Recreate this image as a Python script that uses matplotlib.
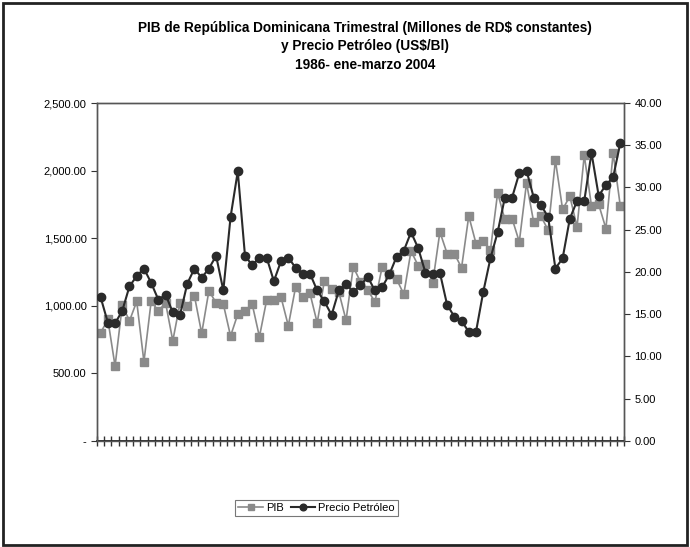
import numpy as np
import matplotlib.pyplot as plt
from matplotlib.ticker import FuncFormatter
from matplotlib.patches import Rectangle

plt.rcParams['font.family'] = ['Liberation Sans', 'DejaVu Sans']

# quarterly series, 1986 Q1 to 2004 Q1
trimestres = np.arange(73)

pib = [799, 898, 553, 1002, 888, 1031, 585, 1031, 962, 1020, 740, 1020,
       997, 1071, 795, 1110, 1021, 1011, 775, 937, 962, 1011, 770, 1041,
       1041, 1061, 851, 1135, 1065, 1091, 873, 1184, 1120, 1100, 893, 1287,
       1176, 1115, 1028, 1287, 1233, 1196, 1085, 1405, 1295, 1307, 1169, 1546,
       1386, 1386, 1280, 1664, 1460, 1480, 1411, 1835, 1638, 1645, 1472, 1908,
       1616, 1662, 1559, 2076, 1712, 1810, 1583, 2113, 1738, 1749, 1571, 2130, 1734]

petroleo = [17.0, 14.0, 13.9, 15.4, 18.3, 19.5, 20.4, 18.7, 16.7, 17.3, 15.2, 14.9,
            18.6, 20.4, 19.3, 20.4, 21.9, 17.8, 26.5, 31.9, 21.9, 20.8, 21.7, 21.7,
            18.9, 21.3, 21.7, 20.5, 19.8, 19.8, 17.8, 16.5, 14.9, 17.8, 18.6, 17.6,
            18.4, 19.4, 17.8, 18.2, 19.7, 21.8, 22.5, 24.7, 22.8, 19.9, 19.8, 19.9,
            16.1, 14.7, 14.2, 12.9, 12.9, 17.6, 21.6, 24.7, 28.8, 28.8, 31.7, 32.0,
            28.8, 27.9, 26.5, 20.4, 21.6, 26.3, 28.4, 28.4, 34.1, 29.0, 30.3, 31.2, 35.3]

titulo = ("PIB de República Dominicana Trimestral (Millones de RD$ constantes)\n"
          "y Precio Petróleo (US$/Bl)\n"
          "1986- ene-marzo 2004")

fig = plt.figure(figsize=(6.9, 5.47), dpi=100)
ax = fig.add_axes([0.1406, 0.1942, 0.7637, 0.6175])
ax2 = ax.twinx()

l1, = ax.plot(trimestres, pib, color='#8a8a8a', marker='s', markersize=5.3,
              linewidth=1.2, label='PIB', zorder=2)
l2, = ax2.plot(trimestres, petroleo, color='#2a2a2a', marker='o', markersize=6,
               linewidth=1.5, label='Precio Petróleo', zorder=3)

ax.set_xlim(-0.5, 72.5)
ax.set_ylim(0, 2500)
ax2.set_ylim(0, 40)
ax.set_yticks(np.arange(0, 2501, 500))
ax2.set_yticks(np.arange(0, 41, 5))

def fmt_pib(v, pos):
    if v == 0:
        return '-'
    return '{:,.2f}'.format(v)

ax.yaxis.set_major_formatter(FuncFormatter(fmt_pib))
ax2.yaxis.set_major_formatter(FuncFormatter(lambda v, p: '{:.2f}'.format(v)))

ax.set_xticks(np.arange(-0.5, 73, 1))
ax.set_xticklabels([])
ax.tick_params(axis='x', direction='inout', length=7, width=1, color='#333333')
ax.tick_params(axis='y', direction='out', length=4, labelsize=8, color='#333333')
ax2.tick_params(axis='y', direction='out', length=4, labelsize=8, color='#333333')

for a in (ax, ax2):
    for s in a.spines.values():
        s.set_color('#555555')
        s.set_linewidth(1)
ax.spines['bottom'].set_color('#222222')
ax.spines['bottom'].set_linewidth(1.3)

fig.text(0.529, 0.962, titulo, ha='center', va='top', fontsize=9.8,
         fontweight='bold', linespacing=1.4)

leg = fig.legend(handles=[l1, l2], loc='center', bbox_to_anchor=(0.459, 0.071),
                 ncol=2, fontsize=8, frameon=True, fancybox=False,
                 handlelength=2.2, handletextpad=0.3, columnspacing=0.6,
                 borderpad=0.3, markerscale=0.8)
leg.get_frame().set_edgecolor('#555555')
leg.get_frame().set_linewidth(0.8)

# outer frame around the whole chart
fig.patches.append(Rectangle((0.004, 0.004), 0.992, 0.99, transform=fig.transFigure,
                             fill=False, edgecolor='#222222', linewidth=2))

fig.savefig('out.png', dpi=100)
